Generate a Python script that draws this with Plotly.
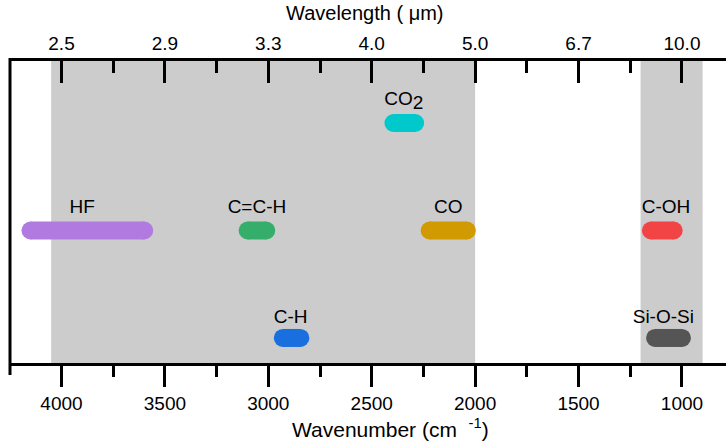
import plotly.graph_objects as go

# Absorption bands (wavenumber, cm^-1)
bands = ["HF", "C=C-H", "CO", "C-OH", "CO<sub><span style=\"font-size:19px\">2</span></sub>", "C-H", "Si-O-Si"]
band_start = [4150, 3100, 2220, 1150, 2395, 2930, 1130]
band_end = [3600, 3010, 2040, 1040, 2290, 2845, 1000]
band_row = [2, 2, 2, 2, 3, 1, 1]
label_x = [3900, 3055, 2130, 1077, 2345, 2892, 1090]
label_y = [2.21, 2.21, 2.21, 2.21, 3.21, 1.18, 1.18]
band_colors = ["#b07ae0", "#35ad6b", "#d09a00", "#f24444", "#00c9cc", "#1a6fdf", "#555555"]

# Atmospheric window regions (wavenumber, cm^-1)
window_start = [4050, 1200]
window_end = [2000, 900]

# Axis ticks
wn_ticks = [4000, 3500, 3000, 2500, 2000, 1500, 1000]
wl_labels = ["2.5", "2.9", "3.3", "4.0", "5.0", "6.7", "10.0"]

FONT = "Liberation Sans, Arial, Helvetica, sans-serif"
INK = "#000000"
x_range = [4249, 787]
y_range = [0.767, 3.577]

fig = go.Figure()

for s, e, r, c in zip(band_start, band_end, band_row, band_colors):
    fig.add_trace(go.Scatter(
        x=[s, e], y=[r, r], mode="lines+markers",
        line=dict(color=c, width=18),
        marker=dict(color=c, size=18, line=dict(width=0)),
        hoverinfo="skip", showlegend=False,
    ))

fig.add_trace(go.Scatter(
    x=label_x, y=label_y, mode="text",
    text=bands, textposition="middle center",
    textfont=dict(family=FONT, size=19, color=INK),
    hoverinfo="skip", showlegend=False,
))

# carrier for the top wavelength axis (no visible marks)
fig.add_trace(go.Scatter(
    x=wn_ticks, y=[None] * len(wn_ticks), xaxis="x2", yaxis="y2", mode="markers",
    hoverinfo="skip", showlegend=False,
))

for s, e in zip(window_start, window_end):
    fig.add_shape(type="rect", xref="x", yref="paper", x0=s, x1=e, y0=0, y1=1,
                  fillcolor="#cccccc", line=dict(width=0), layer="below")

# left frame edge, running down past the bottom axis line
fig.add_shape(type="line", xref="paper", yref="paper", x0=0, x1=0, y0=-0.04, y1=1.01,
              line=dict(color=INK, width=3), layer="above")
# open right side of the frame
fig.add_shape(type="line", xref="paper", yref="paper", x0=1, x1=1, y0=0, y1=1,
              line=dict(color="white", width=6), layer="above")

fig.update_layout(
    width=726, height=444,
    margin=dict(l=10, r=0, t=61, b=81),
    paper_bgcolor="white", plot_bgcolor="rgba(0,0,0,0)",
    font=dict(family=FONT, size=19, color=INK),
    xaxis=dict(
        range=x_range, showgrid=False, zeroline=False,
        showline=True, linecolor=INK, linewidth=3,
        tickmode="array", tickvals=wn_ticks,
        ticks="outside", ticklen=21, tickwidth=3, tickcolor=INK,
        minor=dict(dtick=250, tick0=0, ticks="outside", ticklen=11, tickwidth=3, tickcolor=INK, showgrid=False),
        tickfont=dict(family=FONT, size=19, color=INK),
    ),
    xaxis2=dict(
        range=x_range, anchor="y2", side="top", showgrid=False, zeroline=False,
        showline=True, linecolor=INK, linewidth=3,
        tickmode="array", tickvals=wn_ticks, ticktext=wl_labels,
        ticks="inside", ticklen=22, tickwidth=3, tickcolor=INK,
        minor=dict(dtick=250, tick0=0, ticks="inside", ticklen=12, tickwidth=3, tickcolor=INK, showgrid=False),
        tickfont=dict(family=FONT, size=19, color=INK),
    ),
    yaxis=dict(
        range=y_range, domain=[0, 1], showgrid=False, zeroline=False, showticklabels=False,
        showline=False, ticks="",
    ),
    yaxis2=dict(
        range=[0, 1], domain=[0.995, 1], anchor="x2", showgrid=False, zeroline=False,
        showticklabels=False, showline=False, ticks="",
    ),
    annotations=[
        dict(text="Wavenumber (cm  <sup>-1</sup>)", xref="paper", yref="paper",
             x=(390 - 10) / 716, y=-(428 - 363) / 302, showarrow=False,
             xanchor="center", yanchor="middle", font=dict(family=FONT, size=21, color=INK)),
        dict(text="Wavelength ( \u03bcm)", xref="paper", yref="paper",
             x=(365 - 10) / 716, y=1 + (61 - 13) / 302, showarrow=False,
             xanchor="center", yanchor="middle", font=dict(family=FONT, size=20, color=INK)),
    ],
)

fig.write_html("out.html")
